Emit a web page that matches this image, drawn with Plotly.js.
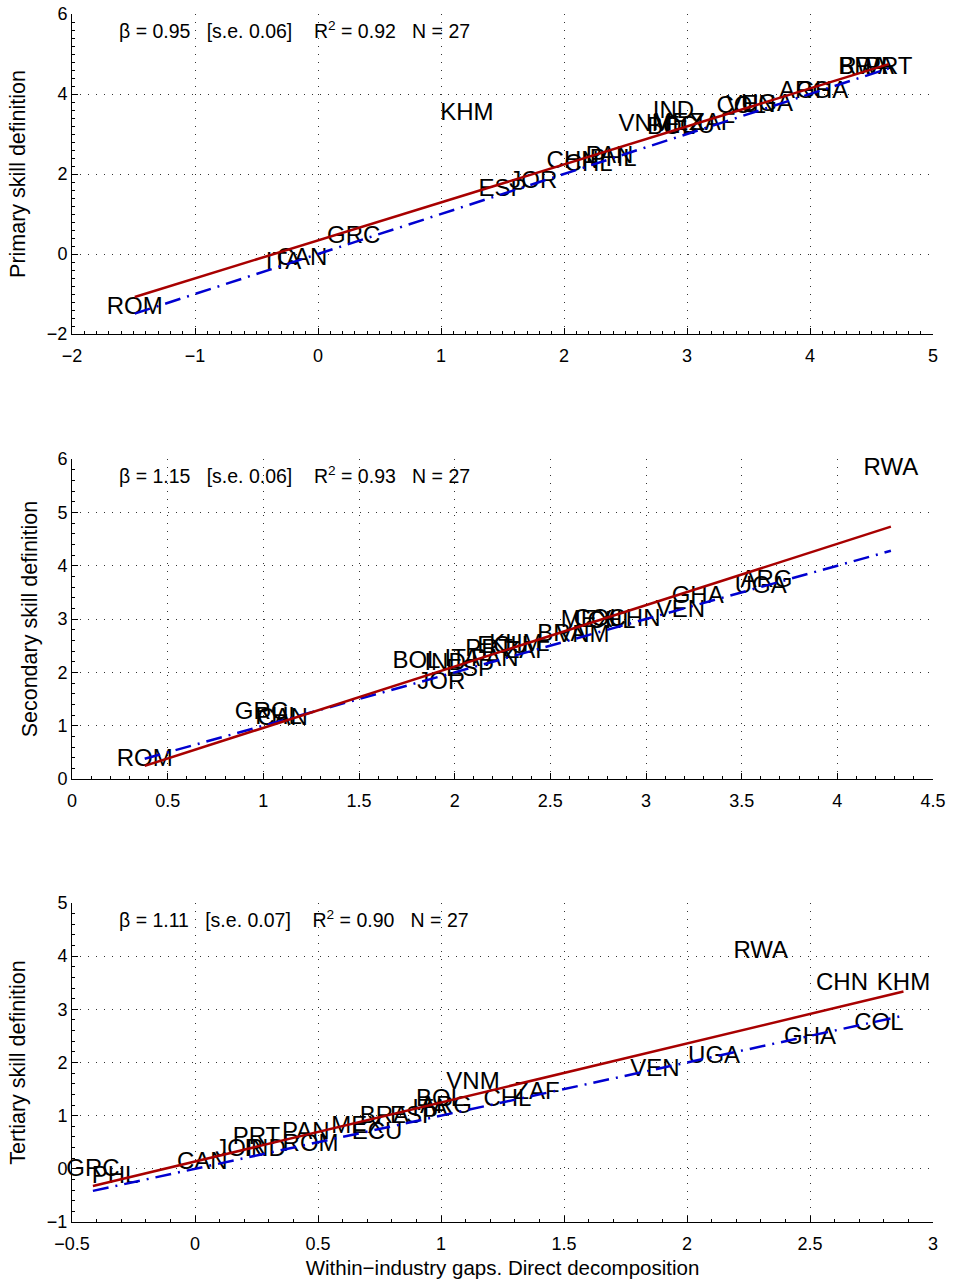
<!DOCTYPE html>
<html>
<head>
<meta charset="utf-8">
<script src="https://cdn.plot.ly/plotly-3.0.1.min.js"></script>
<style>
  html, body { margin: 0; padding: 0; background: #fff; }
  #chart { width: 953px; height: 1284px; }
</style>
</head>
<body>
<div id="chart"></div>
<script>
// Country codes shared by the three panels
const countries = ["ARG","BOL","BRA","CAN","CHL","CHN","COL","ECU","ESP","GHA","GRC","IND","ITA",
                   "JOR","KHM","MEX","PAN","PHL","PRT","ROM","RWA","UGA","VEN","VNM","ZAF"];

// Within-industry gaps (x) and gaps under each skill definition (y)
const primaryX   = [3.96, 2.87, 4.43, -0.13, 2.20, 2.07, 3.44, 3.02, 1.50, 4.10, 0.29, 2.89, -0.28,
                    1.75, 1.21, 2.93, 2.37, 2.40, 4.64, -1.49, 4.46, 3.65, 3.52, 2.66, 3.21];
const primaryY   = [4.05, 3.15, 4.65, -0.125, 2.225, 2.30, 3.675, 3.175, 1.60, 4.05, 0.425, 3.55, -0.225,
                    1.80, 3.50, 3.25, 2.425, 2.35, 4.65, -1.35, 4.65, 3.725, 3.70, 3.225, 3.25];

const secondaryX = [3.63, 1.80, 2.56, 1.10, 2.82, 2.94, 2.75, 2.25, 2.08, 3.27, 0.99, 1.95, 2.04,
                    1.93, 2.32, 2.69, 2.21, 1.08, 2.18, 0.38, 4.28, 3.60, 3.18, 2.67, 2.38];
const secondaryY = [3.71, 2.19, 2.70, 1.125, 2.94, 2.98, 2.98, 2.475, 2.04, 3.41, 1.24, 2.16, 2.23,
                    1.80, 2.51, 2.96, 2.23, 1.14, 2.42, 0.36, 5.81, 3.60, 3.15, 2.68, 2.38];

const tertiaryX  = [1.02, 0.996, 0.77, 0.03, 1.27, 2.63, 2.78, 0.74, 0.89, 2.50, -0.415, 0.285, 0.955,
                    0.18, 2.88, 0.66, 0.45, -0.325, 0.25, 0.47, 2.30, 2.11, 1.87, 1.13, 1.39];
const tertiaryY  = [1.16, 1.29, 0.975, 0.11, 1.29, 3.48, 2.72, 0.67, 0.975, 2.46, -0.02, 0.35, 1.10,
                    0.35, 3.48, 0.79, 0.67, -0.15, 0.58, 0.45, 4.08, 2.10, 1.86, 1.61, 1.43];

// Regression results per panel
const slopes     = [0.95, 1.15, 1.11];
const intercepts = [0.34, -0.19, 0.138];
const stdErrors  = [0.06, 0.06, 0.07];
const rSquared   = [0.92, 0.93, 0.90];
const nObs       = 27;

const panelTitles = ["Primary skill definition", "Secondary skill definition", "Tertiary skill definition"];
const xTitle = "Within\u2212industry gaps. Direct decomposition";

const panels = [
  { x: primaryX,   y: primaryY,   xr: [-2, 5],   yr: [-2, 6], xd: 1,   yd: 2, xm: 0.1, ym: 0.2, dom: [0.7351, 1],     so: 15 },
  { x: secondaryX, y: secondaryY, xr: [0, 4.5],  yr: [0, 6],  xd: 0.5, yd: 1, xm: 0.1, ym: 0.2, dom: [0.3667, 0.6316], so: 13 },
  { x: tertiaryX,  y: tertiaryY,  xr: [-0.5, 3], yr: [-1, 5], xd: 0.5, yd: 1, xm: 0.1, ym: 0.2, dom: [0, 0.2641],     so: 15 }
];

const FONT = "Liberation Sans, Arial, Helvetica, sans-serif";
const RED = "#a80000";
const BLUE = "#0000d0";
const NB = "\u00a0";
const gap = n => NB.repeat(n);

const traces = [];
const layout = {
  width: 953, height: 1284,
  margin: { l: 72, r: 20, t: 14, b: 62 },
  paper_bgcolor: "#ffffff", plot_bgcolor: "#ffffff",
  showlegend: false,
  font: { family: FONT, size: 18, color: "#000" },
  annotations: []
};

panels.forEach((p, i) => {
  const sfx = i === 0 ? "" : String(i + 1);
  const xa = "x" + sfx, ya = "y" + sfx;
  const lo = Math.min(...p.x), hi = Math.max(...p.x);

  // country labels placed at each observation
  traces.push({
    type: "scatter", mode: "text", xaxis: xa, yaxis: ya,
    x: p.x, y: p.y, text: countries,
    textposition: "middle center",
    textfont: { family: FONT, size: 24, color: "#000" },
    hoverinfo: "text", cliponaxis: false
  });
  // 45-degree reference line
  traces.push({
    type: "scatter", mode: "lines", xaxis: xa, yaxis: ya,
    x: [lo, hi], y: [lo, hi],
    line: { color: BLUE, width: 2.5, dash: "16px,7px,2px,7px" }
  });
  // fitted regression line
  traces.push({
    type: "scatter", mode: "lines", xaxis: xa, yaxis: ya,
    x: [lo, hi], y: [intercepts[i] + slopes[i] * lo, intercepts[i] + slopes[i] * hi],
    line: { color: RED, width: 2.5 }
  });

  const axCommon = {
    showline: true, linecolor: "#000", linewidth: 1, mirror: false,
    ticks: "inside", ticklen: 6, tickcolor: "#000", tickwidth: 1,
    showgrid: true, gridcolor: "#333", gridwidth: 1, griddash: "1px,7px",
    zeroline: false, tickfont: { family: FONT, size: 18, color: "#000" }
  };
  layout["xaxis" + sfx] = Object.assign({}, axCommon, {
    anchor: ya, domain: [0, 1], range: p.xr, dtick: p.xd, tick0: 0,
    ticklabelstandoff: 5,
    minor: { ticks: "inside", ticklen: 3, dtick: p.xm, tickcolor: "#000", showgrid: false }
  });
  layout["yaxis" + sfx] = Object.assign({}, axCommon, {
    anchor: xa, domain: p.dom, range: p.yr, dtick: p.yd, tick0: 0,
    minor: { ticks: "inside", ticklen: 3, dtick: p.ym, tickcolor: "#000", showgrid: false },
    title: { text: panelTitles[i], font: { family: FONT, size: 21.5, color: "#000" }, standoff: p.so }
  });
  if (i === 2) {
    layout["xaxis" + sfx].title = { text: xTitle, font: { family: FONT, size: 20.5, color: "#000" }, standoff: 8 };
  }

  // regression summary
  const stats = "\u03b2 = " + slopes[i].toFixed(2) + gap(3) + "[s.e. " + stdErrors[i].toFixed(2) + "]" +
                gap(4) + "R<sup>2</sup> = " + rSquared[i].toFixed(2) + gap(3) + "N = " + nObs;
  layout.annotations.push({
    xref: xa + " domain", yref: ya + " domain",
    x: 0.052, y: 0.95, xanchor: "left", yanchor: "middle",
    text: stats, showarrow: false,
    font: { family: FONT, size: 19.5, color: "#000" }
  });
});

Plotly.newPlot("chart", traces, layout, { staticPlot: true });
</script>
</body>
</html>
